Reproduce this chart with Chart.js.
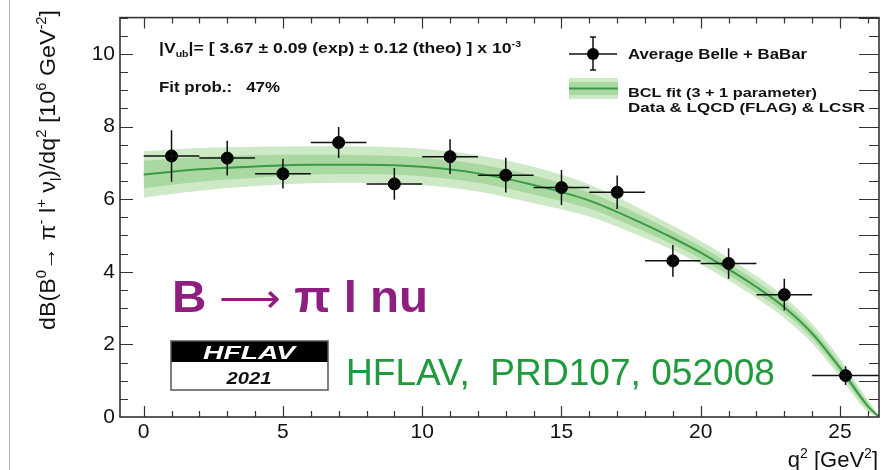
<!DOCTYPE html>
<html>
<head>
<meta charset="utf-8">
<title>B to pi l nu</title>
<script src="https://cdn.jsdelivr.net/npm/chart.js@4.4.1/dist/chart.umd.min.js"></script>
<style>
  html, body { margin: 0; padding: 0; background: #fff; }
  #wrap { position: relative; width: 889px; height: 470px; overflow: hidden; }
  #edge { position: absolute; left: 9px; top: 0; width: 1px; height: 470px; background: #b8b8b8; }
  #myChart { position: absolute; left: 0; top: 0; }
</style>
</head>
<body>
<div id="wrap">
  <div id="edge"></div>
  <canvas id="myChart" width="889" height="470"></canvas>
</div>
<script>
// measured spectrum, average Belle + BaBar (q2 bins in GeV^2)
const q2 = [1, 3, 5, 7, 9, 11, 13, 15, 17, 19, 21, 23, 25.2]
const binLo = [0, 2, 4, 6, 8, 10, 12, 14, 16, 18, 20, 22, 24]
const binHi = [2, 4, 6, 8, 10, 12, 14, 16, 18, 20, 22, 24, 26.4]
const rate = [7.19, 7.13, 6.70, 7.56, 6.42, 7.17, 6.66, 6.32, 6.19, 4.30, 4.23, 3.37, 1.14]
const rateErr = [0.71, 0.48, 0.41, 0.43, 0.44, 0.48, 0.48, 0.48, 0.46, 0.44, 0.42, 0.44, 0.26]

// BCL fit: central curve and the two uncertainty bands
const fitQ2 = [0, 2, 4, 6, 8, 10, 12, 14, 16, 18, 19, 20, 21, 22, 23, 24, 25, 26, 26.4]
const fitMid = [6.68, 6.82, 6.90, 6.95, 6.95, 6.89, 6.71, 6.39, 5.96, 5.30, 4.93, 4.53, 4.07, 3.58, 3.02, 2.30, 1.35, 0.30, 0]
const outerHi = [7.32, 7.41, 7.44, 7.46, 7.45, 7.39, 7.21, 6.89, 6.40, 5.67, 5.27, 4.85, 4.38, 3.88, 3.31, 2.57, 1.60, 0.46, 0.03]
const outerLo = [6.04, 6.23, 6.36, 6.44, 6.45, 6.39, 6.21, 5.89, 5.52, 4.93, 4.59, 4.21, 3.76, 3.28, 2.73, 2.03, 1.10, 0.14, 0]
const innerHi = [7.06, 7.16, 7.21, 7.22, 7.21, 7.15, 6.97, 6.65, 6.18, 5.50, 5.11, 4.70, 4.23, 3.74, 3.17, 2.44, 1.48, 0.39, 0.02]
const innerLo = [6.30, 6.48, 6.59, 6.68, 6.69, 6.63, 6.45, 6.13, 5.74, 5.10, 4.75, 4.36, 3.91, 3.42, 2.87, 2.16, 1.22, 0.21, 0]

const xTicks = [0, 5, 10, 15, 20, 25]
const yTicks = [0, 2, 4, 6, 8, 10]

const FAMILY = '"Liberation Sans", Arial, Helvetica, sans-serif'
const lineGreen = '#3a9a46'
const innerGreen = '#a9d8a0'
const outerGreen = '#cde9c6'

const pts = (xs, ys) => xs.map((x, i) => ({x: x, y: ys[i]}))

// text with sub/superscripts, optionally stretched to a given width
// segs: [text, kind, weight, size]  kind: 1 sup, -1 sub, 0 normal
function drawRich(ctx, segs, x, y, o) {
    const fontFor = s => {
        const size = s[3] || (s[1] ? Math.round(o.size * 0.62) : o.size)
        return `${o.style || ''} ${s[2] || o.weight || 'normal'} ${size}px ${FAMILY}`
    }
    let w = 0
    segs.forEach(s => { ctx.font = fontFor(s); w += ctx.measureText(s[0]).width })
    const sx = o.width ? o.width / w : 1
    let start = x
    if (o.align === 'center') start = x - w * sx / 2
    if (o.align === 'right') start = x - w * sx
    ctx.save()
    ctx.translate(start, y)
    ctx.scale(sx, 1)
    ctx.fillStyle = o.color || '#000'
    ctx.textAlign = 'left'
    ctx.textBaseline = 'alphabetic'
    let cx = 0
    segs.forEach(s => {
        ctx.font = fontFor(s)
        const dy = s[1] === 1 ? -o.size * 0.42 : (s[1] === -1 ? o.size * 0.28 : 0)
        ctx.fillText(s[0], cx, dy)
        cx += ctx.measureText(s[0]).width
    })
    ctx.restore()
}

const errorBars = {
    id: 'errorBars',
    afterDatasetsDraw(chart) {
        const {ctx, scales: {x, y}} = chart
        ctx.save()
        ctx.strokeStyle = '#111'
        ctx.lineWidth = 1.5
        q2.forEach((v, i) => {
            const px = x.getPixelForValue(v)
            const py = y.getPixelForValue(rate[i])
            ctx.beginPath()
            ctx.moveTo(x.getPixelForValue(binLo[i]), py)
            ctx.lineTo(x.getPixelForValue(binHi[i]), py)
            ctx.moveTo(px, y.getPixelForValue(rate[i] - rateErr[i]))
            ctx.lineTo(px, y.getPixelForValue(rate[i] + rateErr[i]))
            ctx.stroke()
        })
        ctx.restore()
    }
}

// ROOT style frame with inward ticks on all four sides
const frame = {
    id: 'frame',
    afterDraw(chart) {
        const {ctx, chartArea: {left, right, top, bottom}, scales: {x, y}} = chart
        ctx.save()
        ctx.strokeStyle = '#333'
        ctx.lineWidth = 1.2
        ctx.beginPath()
        for (let v = 0; v <= 26; v++) {
            const px = Math.round(x.getPixelForValue(v)) + 0.5
            const len = v % 5 === 0 ? 11 : 6
            ctx.moveTo(px, bottom); ctx.lineTo(px, bottom - len)
            ctx.moveTo(px, top); ctx.lineTo(px, top + len)
        }
        for (let v = 0.5; v <= 11; v += 0.5) {
            const py = Math.round(y.getPixelForValue(v)) + 0.5
            const l1 = v % 2 === 0 ? 13 : 8
            const l2 = v % 1 === 0 ? 20 : 10
            ctx.moveTo(left, py); ctx.lineTo(left + l1, py)
            ctx.moveTo(right, py); ctx.lineTo(right - l2, py)
        }
        ctx.stroke()
        ctx.lineWidth = 1.6
        ctx.strokeRect(left, top, right - left, bottom - top)
        ctx.restore()
    }
}

const annotations = {
    id: 'annotations',
    afterDraw(chart) {
        const ctx = chart.ctx

        // axis titles
        ctx.save()
        ctx.translate(55, 170)
        ctx.rotate(-Math.PI / 2)
        drawRich(ctx, [['dB(B', 0], ['0', 1], ['\u2192 \u03c0', 0], ['-', 1], [' l', 0], ['+', 1],
            [' \u03bd', 0], ['l', -1], [')/dq', 0], ['2', 1], [' [10', 0], ['6', 1], [' GeV', 0], ['-2', 1], [']', 0]],
            0, 0, {size: 22, align: 'center', width: 320, color: '#111'})
        ctx.restore()
        drawRich(ctx, [['q', 0], ['2', 1], [' [GeV', 0], ['2', 1], [']', 0]], 878, 467,
            {size: 22, align: 'right', color: '#111'})

        // fit result
        drawRich(ctx, [['|V', 0], ['ub', -1], ['|= [ 3.67 \u00b1 0.09 (exp) \u00b1 0.12 (theo) ] x 10', 0], ['-3', 1]],
            159, 53, {size: 15, weight: 'bold', width: 362, color: '#111'})
        drawRich(ctx, [['Fit prob.:   47%', 0]], 159, 92, {size: 15, weight: 'bold', width: 121, color: '#111'})

        // legend
        ctx.save()
        ctx.strokeStyle = '#111'
        ctx.lineWidth = 1.5
        ctx.beginPath()
        ctx.moveTo(569, 54); ctx.lineTo(617, 54)
        ctx.moveTo(593, 37); ctx.lineTo(593, 70)
        ctx.moveTo(590, 37); ctx.lineTo(596, 37)
        ctx.moveTo(590, 70); ctx.lineTo(596, 70)
        ctx.stroke()
        ctx.fillStyle = '#000'
        ctx.beginPath()
        ctx.arc(593, 54, 6, 0, Math.PI * 2)
        ctx.fill()
        ctx.fillStyle = outerGreen
        ctx.fillRect(569, 78, 49, 21)
        ctx.fillStyle = innerGreen
        ctx.fillRect(569, 82, 49, 13)
        ctx.strokeStyle = lineGreen
        ctx.lineWidth = 2
        ctx.beginPath()
        ctx.moveTo(569, 88.5); ctx.lineTo(618, 88.5)
        ctx.stroke()
        ctx.restore()
        drawRich(ctx, [['Average Belle + BaBar', 0]], 628, 59, {size: 15, weight: 'bold', width: 179, color: '#111'})
        drawRich(ctx, [['BCL fit (3 + 1 parameter)', 0]], 628, 97, {size: 13, weight: 'bold', width: 189, color: '#111'})
        drawRich(ctx, [['Data & LQCD (FLAG) & LCSR', 0]], 628, 112, {size: 13, weight: 'bold', width: 237, color: '#111'})

        // decay label
        drawRich(ctx, [['B ', 0], ['\u27f6', 0, 'normal', 40], [' \u03c0 l nu', 0]], 172, 312,
            {size: 44, weight: 'bold', width: 256, color: '#8e1f80'})

        // HFLAV badge
        ctx.save()
        ctx.fillStyle = '#000'
        ctx.fillRect(171, 341, 157, 21)
        ctx.strokeStyle = '#555'
        ctx.lineWidth = 1.5
        ctx.strokeRect(171, 341, 157, 49)
        ctx.restore()
        drawRich(ctx, [['HFLAV', 0]], 249, 359, {size: 18, weight: 'bold', style: 'italic', align: 'center', width: 92, color: '#fff'})
        drawRich(ctx, [['2021', 0]], 249, 384, {size: 16, weight: 'bold', style: 'italic', align: 'center', width: 45, color: '#111'})

        drawRich(ctx, [['HFLAV,  PRD107, 052008', 0]], 346, 385, {size: 36, width: 429, color: '#1f9a3c'})
    }
}

const smooth = {borderWidth: 0, pointRadius: 0, cubicInterpolationMode: 'monotone'}

const ctx = document.getElementById('myChart').getContext('2d')
const chart = new Chart(ctx, {
    type: 'scatter',
    data: {
        datasets: [
            {
                label: 'Average Belle + BaBar',
                data: pts(q2, rate),
                pointRadius: 6,
                pointHoverRadius: 6,
                backgroundColor: '#000',
                borderColor: '#000'
            },
            {
                type: 'line',
                label: 'BCL fit',
                data: pts(fitQ2, fitMid),
                borderColor: lineGreen,
                borderWidth: 2,
                pointRadius: 0,
                cubicInterpolationMode: 'monotone',
                fill: false
            },
            {type: 'line', data: pts(fitQ2, innerHi), ...smooth, backgroundColor: innerGreen, fill: '+1'},
            {type: 'line', data: pts(fitQ2, innerLo), ...smooth, fill: false},
            {type: 'line', data: pts(fitQ2, outerHi), ...smooth, backgroundColor: outerGreen, fill: '+1'},
            {type: 'line', data: pts(fitQ2, outerLo), ...smooth, fill: false}
        ]
    },
    options: {
        responsive: false,
        animation: false,
        events: [],
        layout: {padding: {top: 12, right: 10, left: 0, bottom: 0}},
        plugins: {
            legend: {display: false},
            tooltip: {enabled: false},
            filler: {drawTime: 'beforeDatasetsDraw'}
        },
        scales: {
            x: {
                type: 'linear',
                min: -0.85,
                max: 26.4,
                afterFit: s => { s.height = 53 },
                afterBuildTicks: s => { s.ticks = xTicks.map(v => ({value: v})) },
                grid: {display: false, drawTicks: false},
                border: {display: false},
                ticks: {font: {family: FAMILY, size: 21}, color: '#111', padding: 3, maxRotation: 0}
            },
            y: {
                min: 0,
                max: 11,
                afterFit: s => { s.width = 120 },
                afterBuildTicks: s => { s.ticks = yTicks.map(v => ({value: v})) },
                grid: {display: false, drawTicks: false},
                border: {display: false},
                ticks: {font: {family: FAMILY, size: 21}, color: '#111', padding: 5}
            }
        }
    },
    plugins: [errorBars, frame, annotations]
})
</script>
</body>
</html>
